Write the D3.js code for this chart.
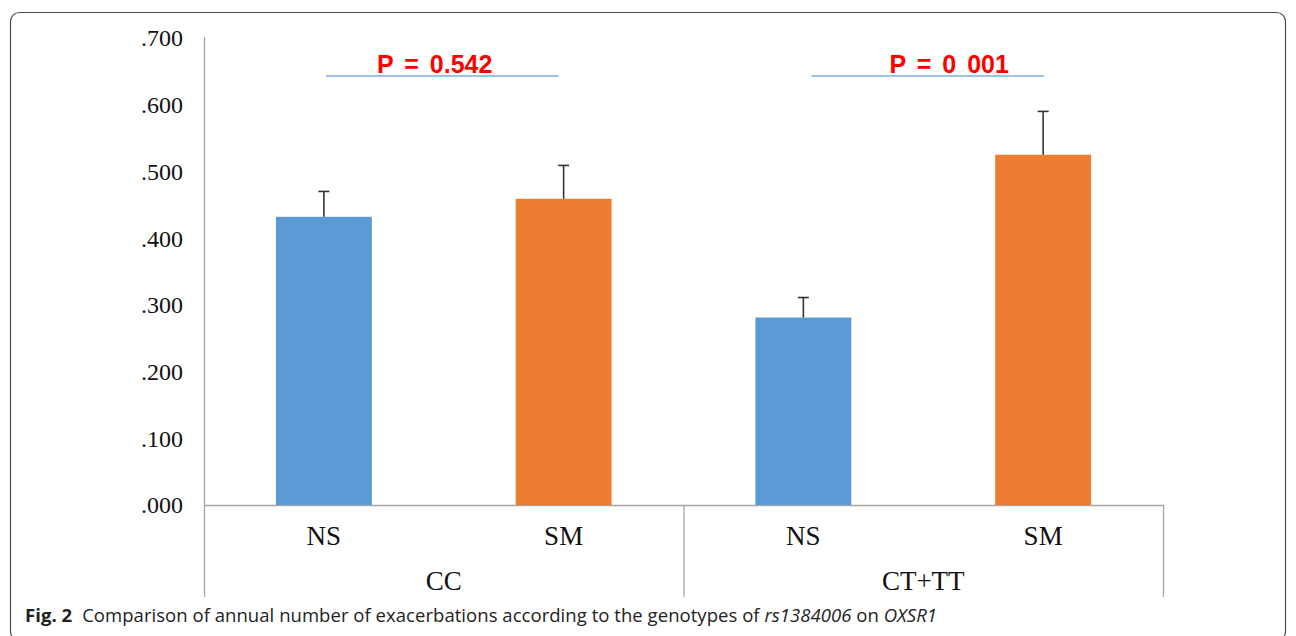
<!DOCTYPE html>
<html><head><meta charset="utf-8">
<script src="https://cdn.jsdelivr.net/npm/d3@7"></script>
<style>body{margin:0;background:#fff}svg{display:block}</style>
</head><body>
<svg id="c" width="1296" height="636"></svg>
<script>
const groups = ["CC", "CT+TT"];
const subgroups = ["NS", "SM"];
const means = [0.432, 0.459, 0.281, 0.525];
const errors = [0.038, 0.050, 0.030, 0.065];
const yTicks = [0, 0.1, 0.2, 0.3, 0.4, 0.5, 0.6, 0.7];
const pLabels = ["P = 0.542", "P = 0 001"];
const pLineLevel = 0.643;
const colors = {NS: "#5b9bd5", SM: "#ed7d31"};

const svg = d3.select("#c");
// frame
svg.append("rect").attr("x",10.5).attr("y",12.5).attr("width",1275).attr("height",628)
  .attr("rx",9).attr("fill","none").attr("stroke","#4d4d4d").attr("stroke-width",1.2);

const data = [];
groups.forEach((g,gi)=>subgroups.forEach((s,si)=>{
  const i = gi*subgroups.length+si;
  data.push({key:g+"|"+s, group:g, sub:s, v:means[i], e:errors[i]});
}));

const x = d3.scaleBand().domain(data.map(d=>d.key)).range([204,1163]).paddingInner(0.6).paddingOuter(0.3);
const y = d3.scaleLinear().domain([0,0.7]).range([505,38]);
const xg = d3.scaleBand().domain(groups).range([204,1163]);

const axisCol = "#a6a6a6";
// y axis
const yAxis = d3.axisLeft(y).tickValues(yTicks).tickSize(0).tickPadding(21)
  .tickFormat(v=>d3.format(".3f")(v).replace(/^0/,""));
const ya = svg.append("g").attr("transform","translate(204,0)").call(yAxis);
ya.select(".domain").remove();
ya.selectAll("text").attr("font-family","Liberation Serif").attr("font-size",24).attr("fill","#111").attr("dy","0.33em");
svg.append("line").attr("x1",204.5).attr("x2",204.5).attr("y1",37).attr("y2",597).attr("stroke",axisCol).attr("stroke-width",1.3);
// x axis baseline
svg.append("line").attr("x1",204).attr("x2",1163).attr("y1",505.5).attr("y2",505.5).attr("stroke",axisCol).attr("stroke-width",1.3);
// group separators
groups.forEach(g=>{
  const xe = xg(g)+xg.bandwidth();
  svg.append("line").attr("x1",xe+0.5).attr("x2",xe+0.5).attr("y1",505).attr("y2",597).attr("stroke",axisCol).attr("stroke-width",1.3);
});

// bars
svg.selectAll("rect.bar").data(data).join("rect").attr("class","bar")
  .attr("x",d=>x(d.key)).attr("width",x.bandwidth())
  .attr("y",d=>y(d.v)).attr("height",d=>y(0)-y(d.v))
  .attr("fill",d=>colors[d.sub]);

// error bars
const eb = svg.selectAll("g.err").data(data).join("g").attr("class","err");
eb.append("line").attr("x1",d=>x(d.key)+x.bandwidth()/2).attr("x2",d=>x(d.key)+x.bandwidth()/2)
  .attr("y1",d=>y(d.v)).attr("y2",d=>y(d.v+d.e)).attr("stroke","#333").attr("stroke-width",1.6);
eb.append("line").attr("x1",d=>x(d.key)+x.bandwidth()/2-5.5).attr("x2",d=>x(d.key)+x.bandwidth()/2+5.5)
  .attr("y1",d=>y(d.v+d.e)).attr("y2",d=>y(d.v+d.e)).attr("stroke","#333").attr("stroke-width",1.6);

// sub labels
svg.selectAll("text.sub").data(data).join("text").attr("class","sub")
  .attr("x",d=>x(d.key)+x.bandwidth()/2).attr("y",545).attr("text-anchor","middle")
  .attr("font-family","Liberation Serif").attr("font-size",27).attr("fill","#111").text(d=>d.sub);
// group labels
svg.selectAll("text.grp").data(groups).join("text").attr("class","grp")
  .attr("x",g=>xg(g)+xg.bandwidth()/2).attr("y",590).attr("text-anchor","middle")
  .attr("font-family","Liberation Serif").attr("font-size",27).attr("fill","#111").text(g=>g);

// p-value annotations (layout offsets relative to bar centres)
const lineOff = [[2,-5],[8,1]];
const textOff = [-9, 26];
groups.forEach((g,gi)=>{
  const a = x(g+"|NS")+x.bandwidth()/2, b = x(g+"|SM")+x.bandwidth()/2;
  const yy = y(pLineLevel);
  svg.append("line").attr("x1",a+lineOff[gi][0]).attr("x2",b+lineOff[gi][1]).attr("y1",yy).attr("y2",yy)
    .attr("stroke","#7eaee0").attr("stroke-width",1.5);
  svg.append("text").attr("x",(a+b)/2 + textOff[gi]).attr("y",yy-3).attr("text-anchor","middle")
    .attr("font-family","Liberation Sans").attr("font-weight","bold").attr("font-size",25)
    .attr("fill","#ff0000").attr("word-spacing",4).text(pLabels[gi]);
});

// caption
const cap = svg.append("text").attr("x",25).attr("y",622).attr("font-family","Open Sans").attr("font-size",18.5).attr("fill","#222");
cap.append("tspan").attr("font-weight","bold").text("Fig. 2");
cap.append("tspan").attr("dx",10).text("Comparison of annual number of exacerbations according to the genotypes of ");
cap.append("tspan").attr("font-style","italic").text("rs1384006");
cap.append("tspan").text(" on ");
cap.append("tspan").attr("font-style","italic").text("OXSR1");
const capLen = cap.node().getComputedTextLength();
const nChars = cap.text().length;
const targetW = 902;
cap.attr("letter-spacing", ((targetW - capLen) / nChars).toFixed(3));
</script>
</body></html>
